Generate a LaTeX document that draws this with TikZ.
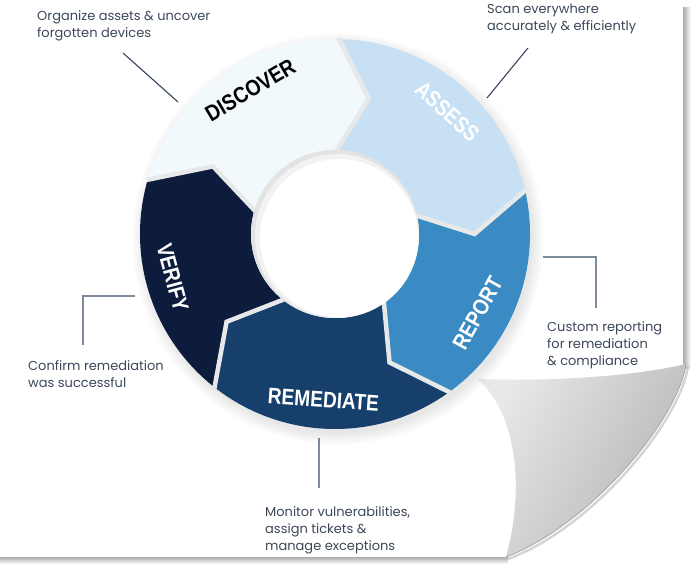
\documentclass[tikz,border=0pt]{standalone}
\usepackage{fontspec}
\setmainfont{Poppins}
\newfontfamily\labelfont{Liberation Sans}
\definecolor{discover}{HTML}{F1F9FD}
\definecolor{assess}{HTML}{C7E0F4}
\definecolor{report}{HTML}{3A8AC3}
\definecolor{remediate}{HTML}{163F6C}
\definecolor{verify}{HTML}{0D1B3C}
\definecolor{desctext}{HTML}{3C4859}
\definecolor{leaderdark}{HTML}{34445F}
\definecolor{leaderlight}{HTML}{7E8A9A}
\definecolor{gapcol}{HTML}{E6E8EA}
\newcommand\ringseg[3]{%
  \fill[#1] (#2:195) arc[start angle=#2, end angle=#3, radius=195]
    -- ({#3-13}:139.5) -- (#3:84) arc[start angle=#3, end angle=#2, radius=84]
    -- ({#2-13}:139.5) -- cycle;}
\newcommand\ringgap[1]{%
  \draw[gapline] (#1:196) -- ({#1-13}:139.5) -- (#1:83);}
\newcommand\seglbl[1]{\scalebox{0.85}[1]{#1}}
\begin{document}
\begin{tikzpicture}[x=1pt,y=1pt,
  desc/.style={font=\fontsize{13}{17}\selectfont, text=desctext, align=left, inner sep=0pt, anchor=north west},
  seglabel/.style={font=\labelfont\bfseries\fontsize{22.5}{22.5}\selectfont, inner sep=0pt},
  gapline/.style={draw=gapcol, line width=4.5pt, line join=miter},
  leaderdk/.style={draw=leaderdark, line width=1.1pt},
  leaderlt/.style={draw=leaderlight, line width=1.1pt}]
\useasboundingbox (0,-572) rectangle (698,0);
\fill[white] (0,-572) rectangle (698,0);

% page edge shadows
\shade[left color=gray!65, right color=white] (683,-8) rectangle (691,-368);
\shade[top color=gray!65, bottom color=white] (0,-557) rectangle (508,-564);

% page curl
\shade[left color=gray!18, right color=gray!58, shading angle=60]
  (478,-379) .. controls (560,-382) and (640,-375) .. (686,-364)
  .. controls (678,-420) and (590,-525) .. (506,-557)
  .. controls (522,-500) and (522,-420) .. (478,-379) -- cycle;
\draw[gray!55, line width=2.5pt, opacity=0.6]
  (688,-366) .. controls (680,-422) and (592,-528) .. (508,-559);
\draw[gray!70, line width=0.8pt]
  (686,-364) .. controls (678,-420) and (590,-525) .. (506,-557);

\begin{scope}[shift={(335,-234)}]
  % ring shadow
  \foreach \i in {1,...,8} {\fill[black, opacity=0.013] (3,-5) circle ({193+\i*1.6});}
  \ringseg{discover}{164}{89}
  \ringseg{assess}{89}{13}
  \ringseg{report}{13}{-54}
  \ringseg{remediate}{-54}{-128}
  \ringseg{verify}{232}{164}
  \ringgap{89}
  \ringgap{13}
  \ringgap{-54}
  \ringgap{-128}
  \ringgap{164}
  % hole
  \fill[gray!22] (0,0) circle (84);
  \fill[gray!10] (2,-2) circle (82);
  \fill[white] (4,-4) circle (79);
  \node[seglabel, text=black, rotate=30.5] (lblDiscover) at (120.5:167) {\seglbl{DISCOVER}};
  \node[seglabel, text=white, rotate=-42.5] (lblAssess) at (47.5:166) {\seglbl{ASSESS}};
  \node[seglabel, text=white, rotate=61] (lblReport) at (-29:163) {\seglbl{REPORT}};
  \node[seglabel, text=white, rotate=-4] (lblRemediate) at (-94:166) {\seglbl{REMEDIATE}};
  \node[seglabel, text=white, rotate=-75] (lblVerify) at (195:168) {\seglbl{VERIFY}};
\end{scope}

% descriptions
\node[desc] (dDiscover) at (37,-10.5) {Organize assets \& uncover\\forgotten devices};
\node[desc] (dAssess) at (487,-4) {Scan everywhere\\accurately \& efficiently};
\node[desc] (dReport) at (547,-321) {Custom reporting\\for remediation\\\& compliance};
\node[desc] (dRemediate) at (265,-506) {Monitor vulnerabilities,\\assign tickets \&\\manage exceptions};
\node[desc] (dVerify) at (28,-360) {Confirm remediation\\was successful};

% leader lines
\coordinate (l1a) at (123,-53); \coordinate (l1b) at (178,-102);
\coordinate (l2a) at (528,-48); \coordinate (l2b) at (487,-98);
\coordinate (l3a) at (543,-257); \coordinate (l3b) at (596,-308);
\coordinate (l4a) at (319,-438); \coordinate (l4b) at (319,-488);
\coordinate (l5a) at (135,-296); \coordinate (l5b) at (83,-345);
\draw[leaderdk] (l1a) -- (l1b);
\draw[leaderdk] (l2a) -- (l2b);
\draw[leaderlt] (l3a) -| (l3b);
\draw[leaderlt] (l4a) -- (l4b);
\draw[leaderlt] (l5a) -| (l5b);
\end{tikzpicture}
\end{document}
